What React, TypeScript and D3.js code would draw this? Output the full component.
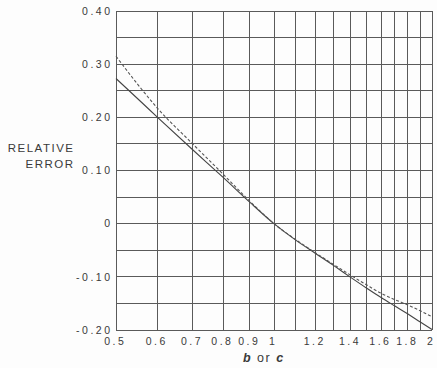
import React from "react";
import * as d3 from "d3";

// chart values
const xTickValues = [0.5, 0.6, 0.7, 0.8, 0.9, 1, 1.2, 1.4, 1.6, 1.8, 2];
const xTickLabels = ["0.5", "0.6", "0.7", "0.8", "0.9", "1", "1.2", "1.4", "1.6", "1.8", "2"];
const xGridValues = [0.5, 0.6, 0.7, 0.8, 0.9, 1.0, 1.1, 1.2, 1.3, 1.4, 1.5, 1.6, 1.7, 1.8, 1.9, 2.0];

const yTickValues = [0.4, 0.3, 0.2, 0.1, 0, -0.1, -0.2];
const yTickLabels = ["0.40", "0.30", "0.20", "0.10", "0", "-0.10", "-0.20"];
const yGridValues = [0.4, 0.35, 0.3, 0.25, 0.2, 0.15, 0.1, 0.05, 0, -0.05, -0.1, -0.15, -0.2];

const curveX = [0.5, 0.55, 0.6, 0.7, 0.8, 0.9, 1.0, 1.1, 1.2, 1.3, 1.4, 1.5, 1.6, 1.7, 1.8, 1.9, 2.0];
const solidY = [0.273, 0.235, 0.2, 0.139, 0.087, 0.04, 0, -0.031, -0.056, -0.079, -0.101, -0.121, -0.139, -0.155, -0.17, -0.185, -0.199];
const dashedY = [0.315, 0.262, 0.217, 0.15, 0.093, 0.042, 0, -0.03, -0.055, -0.077, -0.097, -0.115, -0.131, -0.143, -0.153, -0.164, -0.175];

const W = 437;
const H = 368;
const M = { top: 11, right: 5, bottom: 38, left: 116 };

const FONT = "'Liberation Sans', Arial, Helvetica, sans-serif";
const INK = "#3a3a3a";

export default function App() {
  const x = d3.scaleLog().domain([0.5, 2]).range([M.left, W - M.right]);
  const y = d3.scaleLinear().domain([-0.2, 0.4]).range([H - M.bottom, M.top]);

  const line = d3
    .line<number>()
    .x((_, i) => x(curveX[i]))
    .y((d) => y(d))
    .curve(d3.curveMonotoneX);

  const [x0, x1] = x.range();
  const [y0, y1] = y.range();

  return (
    <svg
      width={W}
      height={H}
      style={{ position: "absolute", left: 0, top: 0, background: "#fdfdfd" }}
      fontFamily={FONT}
    >
      {/* grid */}
      <g stroke="#5a5a5a" strokeWidth={1} shapeRendering="crispEdges">
        {xGridValues.map((v) => (
          <line key={"gx" + v} x1={x(v)} x2={x(v)} y1={y0} y2={y1} />
        ))}
        {yGridValues.map((v) => (
          <line key={"gy" + v} x1={x0} x2={x1} y1={y(v)} y2={y(v)} />
        ))}
      </g>

      {/* curves */}
      <path d={line(solidY) || ""} fill="none" stroke="#444" strokeWidth={1.1} />
      <path d={line(dashedY) || ""} fill="none" stroke="#555" strokeWidth={1.1} strokeDasharray="3,2" />

      {/* y tick labels */}
      <g fontSize={10.5} fill={INK} letterSpacing={2.5} textAnchor="end">
        {yTickValues.map((v, i) => (
          <text key={"yl" + v} x={x0 - 6 + 2.5} y={y(v)} dy="0.36em">
            {yTickLabels[i]}
          </text>
        ))}
      </g>

      {/* x tick labels */}
      <g fontSize={10.5} fill={INK} letterSpacing={2.5} textAnchor="middle">
        {xTickValues.map((v, i) => (
          <text key={"xl" + v} x={x(v) - 2 + 1.25} y={y0 + 15}>
            {xTickLabels[i]}
          </text>
        ))}
      </g>

      {/* axis titles */}
      <g fontSize={11.5} fill={INK} letterSpacing={1.5} textAnchor="end">
        <text x={73 + 1.5} y={151.5}>RELATIVE</text>
        <text x={73 + 1.5} y={167.5}>ERROR</text>
      </g>
      <text x={263 + 0.75} y={362} fontSize={12.5} fill={INK} letterSpacing={1.5} textAnchor="middle">
        <tspan fontStyle="italic" fontWeight="bold">b</tspan>
        <tspan> or </tspan>
        <tspan fontStyle="italic" fontWeight="bold">c</tspan>
      </text>
    </svg>
  );
}
